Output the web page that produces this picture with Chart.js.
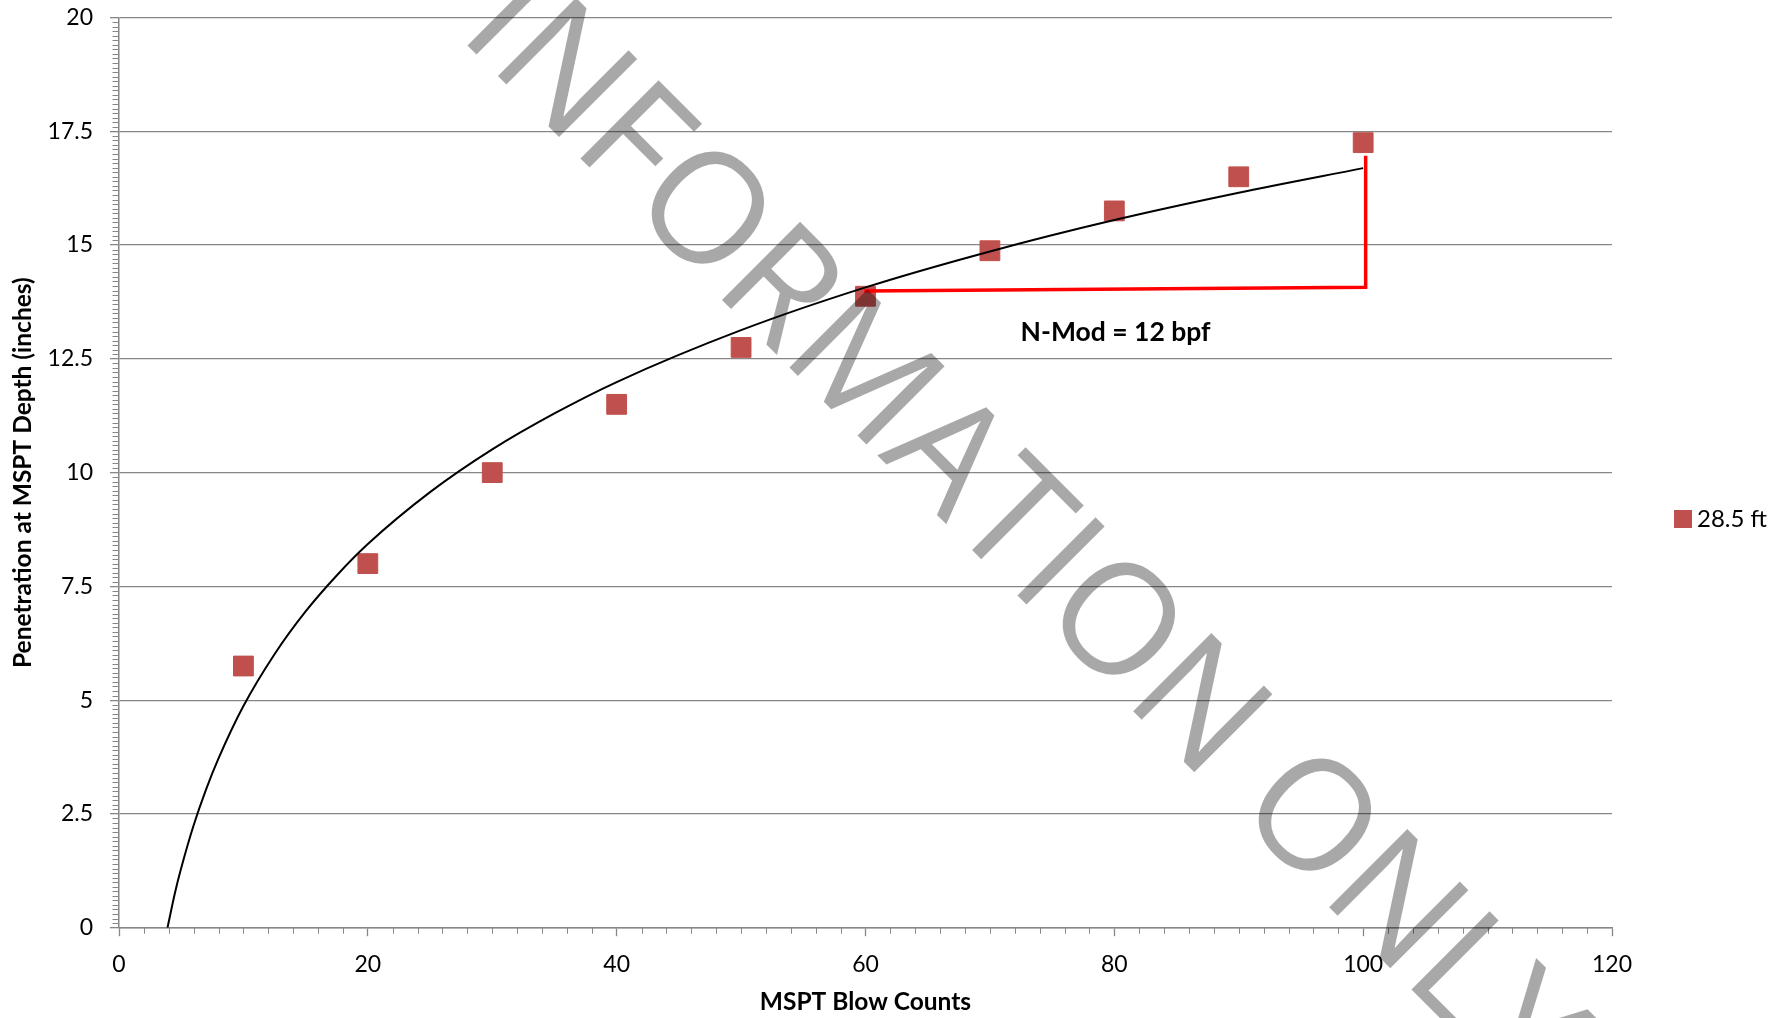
<!DOCTYPE html>
<html>
<head>
<meta charset="utf-8">
<title>MSPT Blow Counts</title>
<script src="https://cdn.jsdelivr.net/npm/chart.js@4.4.1/dist/chart.umd.min.js"></script>
<style>
  html, body { margin: 0; padding: 0; background: #fff; }
  #wrap { width: 1788px; height: 1018px; }
</style>
</head>
<body>
<div id="wrap"><canvas id="penChart" width="1788" height="1018"></canvas></div>
<script>
// blow counts vs penetration
const blowCounts = [10, 20, 30, 40, 50, 60, 70, 80, 90, 100];
const penetration = [5.75, 8, 10, 11.5, 12.75, 13.875, 14.875, 15.75, 16.5, 17.25];

// log trendline
const trendX = [3.9, 4.5, 5, 6, 7, 8, 10, 12.5, 15, 17.5, 20, 25, 30, 35, 40, 50, 60, 70, 80, 90, 100];
const trendY = [0, 0.77, 1.31, 2.25, 3.04, 3.72, 4.87, 6.01, 6.95, 7.74, 8.43, 9.57, 10.51, 11.3, 11.99, 13.13, 14.07, 14.86, 15.55, 16.15, 16.69];

// red N-Mod bracket
const nmodX = [59.9, 100.2, 100.2];
const nmodY = [13.99, 14.07, 16.96];
const nmodLabel = "N-Mod = 12 bpf";
const nmodLabelX = 80.1;
const nmodLabelY = 13.09;

const xTicks = [0, 20, 40, 60, 80, 100, 120];
const yTicks = [0, 2.5, 5, 7.5, 10, 12.5, 15, 17.5, 20];
const seriesName = "28.5 ft";
const watermark = "INFORMATION ONLY";

const markerRed = "#C0504D";
const axisGray = "#868686";
const FONT = "Lato";

const extrasPlugin = {
  id: "extras",
  afterDraw(chart) {
    const ctx = chart.ctx;
    const xs = chart.scales.x;
    const ys = chart.scales.y;
    const area = chart.chartArea;
    ctx.save();

    // minor tick marks (every 2 on x, every 0.1 on y)
    ctx.strokeStyle = axisGray;
    ctx.lineWidth = 1;
    ctx.beginPath();
    for (let v = 2; v < 120; v += 2) {
      if (v % 20 === 0) continue;
      const px = Math.round(xs.getPixelForValue(v)) + 0.5;
      ctx.moveTo(px, area.bottom);
      ctx.lineTo(px, area.bottom + 6);
    }
    for (let i = 1; i < 200; i++) {
      if (i % 25 === 0) continue;
      const py = Math.round(ys.getPixelForValue(i / 10)) + 0.5;
      ctx.moveTo(area.left, py);
      ctx.lineTo(area.left - 6.5, py);
    }
    ctx.stroke();

    // N-Mod label
    ctx.fillStyle = "#000";
    ctx.font = "bold 26.5px " + FONT;
    ctx.textAlign = "center";
    ctx.textBaseline = "middle";
    ctx.fillText(nmodLabel, xs.getPixelForValue(nmodLabelX), ys.getPixelForValue(nmodLabelY));

    // legend
    const ds = chart.data.datasets[0];
    ctx.fillStyle = ds.backgroundColor;
    ctx.fillRect(1674, 510, 18, 18);
    ctx.fillStyle = "#000";
    ctx.font = "24px " + FONT;
    ctx.textAlign = "left";
    ctx.fillText(ds.label, 1697, 519);

    // diagonal watermark on top of everything
    const wmFont = "'Open Sans'";
    ctx.font = "100px " + wmFont;
    const span = ctx.measureText(watermark.slice(0, 12)).width +
      ctx.measureText("O").width / 2 - ctx.measureText("I").width / 2;
    const size = 100 * 1137 / span;
    ctx.font = size + "px " + wmFont;
    const halfI = ctx.measureText("I").width / 2;
    ctx.translate(472, 50);
    ctx.rotate(Math.PI / 4);
    ctx.fillStyle = "rgba(0,0,0,0.34)";
    ctx.textBaseline = "alphabetic";
    ctx.fillText(watermark, -halfI, 0);
    ctx.restore();
  },
};

const ctx = document.getElementById("penChart");
new Chart(ctx, {
  type: "scatter",
  data: {
    datasets: [
      {
        label: seriesName,
        data: blowCounts.map((x, i) => ({ x: x, y: penetration[i] })),
        backgroundColor: markerRed,
        borderColor: markerRed,
        borderWidth: 1,
        pointStyle: "rect",
        pointRadius: 14,
        order: 2,
      },
      {
        type: "line",
        label: "trend",
        data: trendX.map((x, i) => ({ x: x, y: trendY[i] })),
        borderColor: "#000",
        borderWidth: 2,
        pointRadius: 0,
        fill: false,
        cubicInterpolationMode: "monotone",
        order: 1,
      },
      {
        type: "line",
        label: "N-Mod",
        data: nmodX.map((x, i) => ({ x: x, y: nmodY[i] })),
        borderColor: "#FF0000",
        borderWidth: 3.5,
        pointRadius: 0,
        fill: false,
        tension: 0,
        borderJoinStyle: "miter",
        order: 0,
      },
    ],
  },
  options: {
    responsive: false,
    animation: false,
    layout: { padding: { left: 0, top: 17.5, right: 176, bottom: 0 } },
    plugins: {
      legend: { display: false },
      tooltip: { enabled: false },
    },
    scales: {
      x: {
        type: "linear",
        min: 0,
        max: 120,
        afterBuildTicks: (s) => {
          s.ticks = xTicks.map((v) => ({ value: v }));
        },
        afterFit: (s) => {
          s.height = 1018 - 927.7;
        },
        ticks: {
          color: "#000",
          font: { family: FONT, size: 23 },
          padding: 15,
          callback: (v) => String(v),
        },
        grid: {
          drawOnChartArea: false,
          drawTicks: true,
          tickLength: 8.5,
          tickColor: axisGray,
          tickWidth: 1.3,
        },
        border: { color: axisGray, width: 1.5 },
        title: {
          display: true,
          text: "MSPT Blow Counts",
          color: "#000",
          font: { family: FONT, size: 24.5, weight: "bold", lineHeight: 1.2 },
          padding: { top: 0, bottom: 1.3 },
        },
      },
      y: {
        type: "linear",
        min: 0,
        max: 20,
        afterBuildTicks: (s) => {
          s.ticks = yTicks.map((v) => ({ value: v }));
        },
        afterFit: (s) => {
          s.width = 119;
          s.paddingTop = 0;
          s.paddingBottom = 0;
        },
        ticks: {
          color: "#000",
          font: { family: FONT, size: 23 },
          padding: 17,
          callback: (v) => String(v),
        },
        grid: {
          color: axisGray,
          lineWidth: 1.3,
          drawTicks: true,
          tickLength: 9,
          tickColor: axisGray,
        },
        border: { color: axisGray, width: 1.5 },
        title: {
          display: true,
          text: "Penetration at MSPT Depth (inches)",
          color: "#000",
          font: { family: FONT, size: 24.5, weight: "bold", lineHeight: 1.2 },
          padding: { top: 8.5, bottom: 0 },
        },
      },
    },
  },
  plugins: [extrasPlugin],
});
</script>
</body>
</html>
